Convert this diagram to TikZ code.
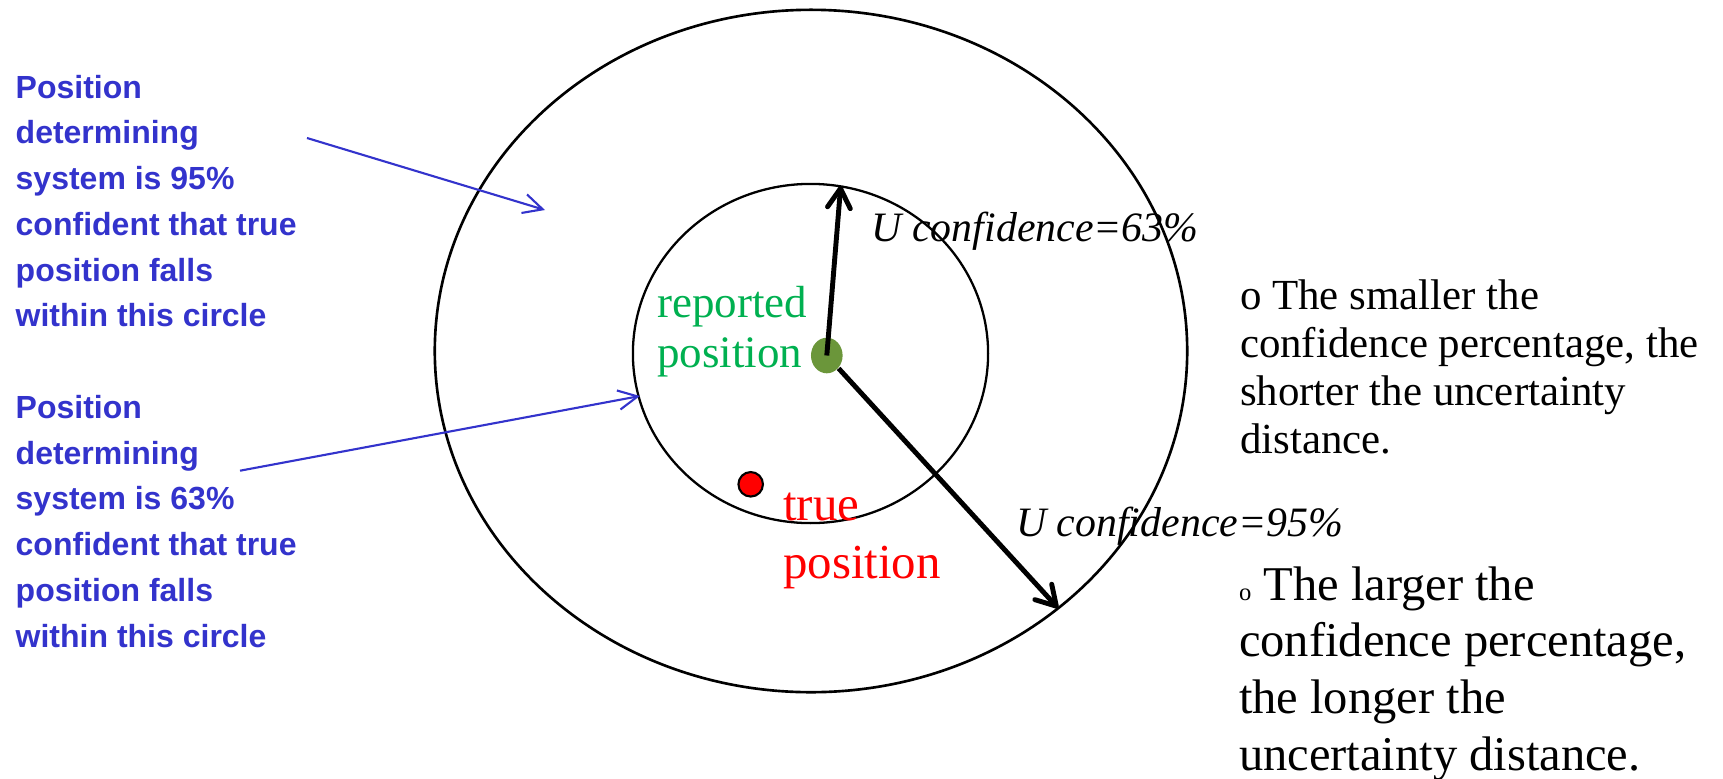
\documentclass[tikz,border=0pt]{standalone}
\usepackage{fontspec}
\setmainfont{Liberation Serif}
\setsansfont{Liberation Sans}
\usetikzlibrary{arrows.meta,shapes.geometric}
\definecolor{bluec}{RGB}{51,51,204}
\definecolor{greenc}{RGB}{0,176,80}
\definecolor{olivec}{RGB}{107,150,58}
\begin{document}
\begin{tikzpicture}[x=0.01cm,y=-0.01cm,
  ring/.style={draw=black,line width=0.75pt},
  blk/.style={line width=1.4pt,-{Straight Barb[length=5.5pt,width=6.5pt,round]}},
  blu/.style={draw=bluec,line width=0.6pt,-{Straight Barb[length=5.5pt,width=5.5pt]}},
  bluetext/.style={anchor=base west,inner sep=0pt,align=left,text=bluec,
    font=\fontsize{9.1}{13}\selectfont\sffamily\bfseries},
  utext/.style={anchor=base west,inner sep=0pt,
    font=\fontsize{11.9}{14}\selectfont\itshape},
  righttext/.style={anchor=base west,inner sep=0pt,align=left}
]
\useasboundingbox (0,0) rectangle (1723,778);
% rings
\draw[ring] (811,351) ellipse [x radius=3.76cm, y radius=3.41cm];
\draw[ring,line width=0.65pt] (810.5,353.5) ellipse [x radius=1.775cm, y radius=1.695cm];
% dots
\node (rep) [ellipse,fill=olivec,inner sep=0pt,minimum width=0.316cm,minimum height=0.356cm] at (826.8,355.5) {};
\node (tru) [circle,fill=red,draw=black,line width=0.6pt,inner sep=0pt,minimum size=0.245cm] at (750.7,484.3) {};
% radius arrows
\coordinate (tip63) at (840.7,186);
\coordinate (tip95) at (1058,608);
\draw[blk] (rep.center) -- (tip63);
\draw[blk] (rep) -- (tip95);
% labels in the circles (anchored on the baseline of the last line)
\node (replab) [anchor=base west,inner sep=0pt,align=left,text=greenc,
  font=\fontsize{12.8}{14.2}\selectfont] at (656.7,367.3) {reported\\position};
\node (trulab) [anchor=base west,inner sep=0pt,align=left,text=red,
  font=\fontsize{13.9}{16.5}\selectfont] at (782.5,578.3) {true\\position};
\node (u63) [utext] at (871,241) {U confidence=63\%};
\node (u95) [utext] at (1015.5,536) {U confidence=95\%};
% blue explanations
\node (b95) [bluetext] at (15,326.8) {Position\\determining\\system is 95\%\\confident that true\\position falls\\within this circle};
\node (b63) [bluetext] at (15,647) {Position\\determining\\system is 63\%\\confident that true\\position falls\\within this circle};
\coordinate (s95) at (307,138);
\coordinate (e95) at (545,210);
\coordinate (s63) at (240,470.7);
\coordinate (e63) at (640,396);
\draw[blu] (s95) -- (e95);
\draw[blu] (s63) -- (e63);
% right texts
\node (r1) [righttext,font=\fontsize{12.2}{13.6}\selectfont] at (1239.3,453)
  {o The smaller the\\confidence percentage, the\\shorter the uncertainty\\distance.};
\node (r2) [righttext,font=\fontsize{13.8}{16.1}\selectfont] at (1238.3,770)
  {{\fontsize{7}{7}\selectfont o} The larger the\\confidence percentage,\\the longer the\\uncertainty distance.};
\end{tikzpicture}
\end{document}
